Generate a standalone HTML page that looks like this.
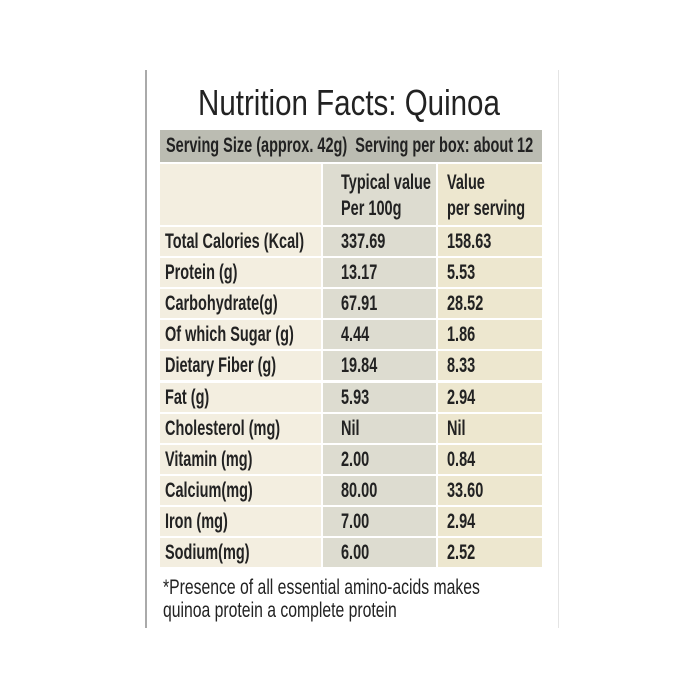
<!DOCTYPE html>
<html><head><meta charset="utf-8"><style>
body{margin:0;width:700px;height:700px;background:#fff;position:relative;overflow:hidden;font-family:"Liberation Sans",sans-serif;color:#222}
.a{position:absolute}
.t{position:absolute;white-space:nowrap;transform-origin:0 50%;transform:scaleX(0.69);font-weight:bold;font-size:21px;line-height:22px}
.c1{background:#f3eee0}.c2{background:#dddcd0}.c3{background:#ede7cf}
</style></head><body>
<div class="a" style="left:145px;top:70px;width:2px;height:558px;background:#aaa"></div>
<div class="a" style="left:558px;top:70px;width:1px;height:558px;background:#e4e4e4"></div>
<div class="t" style="left:198px;top:84px;font-size:36px;line-height:38px;font-weight:normal;transform:scaleX(0.82);color:#222">Nutrition Facts: Quinoa</div>
<div class="a" style="left:160px;top:130px;width:382px;height:32px;background:#bbbcb2"></div>
<div class="t" style="left:166px;top:135px;transform:scaleX(0.69)">Serving Size (approx. 42g)&nbsp; Serving per box: about 12</div>
<div class="a c1" style="left:160px;top:164px;width:161px;height:61px"></div>
<div class="a c2" style="left:323px;top:164px;width:113px;height:61px"></div>
<div class="a c3" style="left:438px;top:164px;width:104px;height:61px"></div>
<div class="t" style="left:341px;top:172px">Typical value</div>
<div class="t" style="left:341px;top:198px">Per 100g</div>
<div class="t" style="left:447px;top:172px">Value</div>
<div class="t" style="left:447px;top:198px">per serving</div>
<div id="rows"></div>
<div class="t" style="left:163px;top:577px;font-weight:normal;font-size:21px;transform:scaleX(0.75)">*Presence of all essential amino-acids makes</div>
<div class="t" style="left:163px;top:600px;font-weight:normal;font-size:21px;transform:scaleX(0.75)">quinoa protein a complete protein</div>
<script>
var d=[["Total Calories (Kcal)","337.69","158.63"],["Protein (g)","13.17","5.53"],["Carbohydrate(g)","67.91","28.52"],["Of which Sugar (g)","4.44","1.86"],["Dietary Fiber (g)","19.84","8.33"],["Fat (g)","5.93","2.94"],["Cholesterol (mg)","Nil","Nil"],["Vitamin (mg)","2.00","0.84"],["Calcium(mg)","80.00","33.60"],["Iron (mg)","7.00","2.94"],["Sodium(mg)","6.00","2.52"]];
var h="";
d.forEach(function(r,i){var y=227+i*31.1;
h+='<div class="a c1" style="left:160px;top:'+y+'px;width:161px;height:29px"></div>';
h+='<div class="a c2" style="left:323px;top:'+y+'px;width:113px;height:29px"></div>';
h+='<div class="a c3" style="left:438px;top:'+y+'px;width:104px;height:29px"></div>';
h+='<div class="t" style="left:165px;top:'+(y+4)+'px">'+r[0]+'</div>';
h+='<div class="t" style="left:341px;top:'+(y+4)+'px">'+r[1]+'</div>';
h+='<div class="t" style="left:447px;top:'+(y+4)+'px">'+r[2]+'</div>';});
document.getElementById("rows").innerHTML=h;
</script>
</body></html>
